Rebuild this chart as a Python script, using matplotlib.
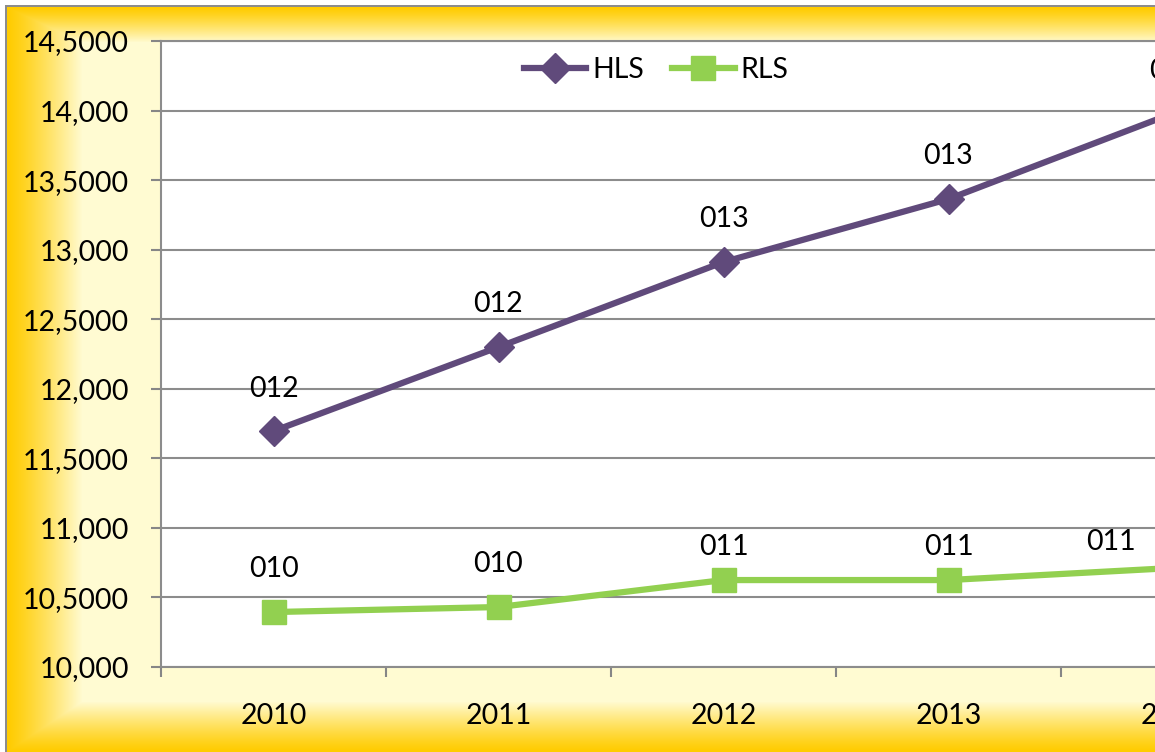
import numpy as np
import matplotlib.pyplot as plt
from matplotlib.colors import to_rgb

plt.rcParams['font.family'] = ['Lato', 'DejaVu Sans']

years = ['2010', '2011', '2012', '2013', '2014']
hls = [11696, 12300, 12911, 13364, 13982]
rls = [10395, 10431, 10625, 10625, 10712]
hls_labels = ['012', '012', '013', '013', '013']
rls_labels = ['010', '010', '011', '011', '011']
ytick_vals = [10000, 10500, 11000, 11500, 12000, 12500, 13000, 13500, 14000, 14500]
ytick_text = ['10,000', '10,5000', '11,000', '11,5000', '12,000', '12,5000',
              '13,000', '13,5000', '14,000', '14,5000']

W, H = 1155, 752
fig = plt.figure(figsize=(W / 100, H / 100), dpi=100)

# golden frame gradient behind everything
yy, xx = np.mgrid[0:H, 0:W].astype(float)
t = np.minimum.reduce([(xx - 7) / 75.0, (yy - 7) / 35.0, (H - 1 - yy) / 50.0, np.ones_like(xx)])
t = np.clip(t, 0, 1) ** 1.2
gold = np.array(to_rgb('#FFCC00'))
pale = np.array(to_rgb('#FFFBD2'))
img = gold[None, None, :] * (1 - t[..., None]) + pale[None, None, :] * t[..., None]
img[(xx < 5) | (yy < 5)] = 1.0
img[((xx >= 5) & (xx < 7) & (yy >= 5)) | ((yy >= 5) & (yy < 7) & (xx >= 5))] = to_rgb('#8C8C8C')
bg = fig.add_axes([0, 0, 1, 1], zorder=0)
bg.imshow(img, aspect='auto', interpolation='bilinear')
bg.axis('off')

ax = fig.add_axes([161 / W, 85 / H, 1125 / W, 626 / H], zorder=1)
ax.set_facecolor('white')
x = np.arange(len(years))

ax.plot(x, hls, color='#604A7B', lw=4.5, marker='D', ms=15, label='HLS', zorder=3)
ax.plot(x, rls, color='#92D050', lw=4.5, marker='s', ms=17, label='RLS', zorder=3)

hls_off = [(0, 30), (0, 31), (0, 31), (0, 31), (0, 30)]
rls_off = [(0, 31), (0, 31), (0, 24), (0, 24), (-45, 19)]
for i in range(len(years)):
    ax.annotate(hls_labels[i], (x[i], hls[i]), xytext=hls_off[i], textcoords='offset points',
                ha='center', va='center', fontsize=20.5)
    ax.annotate(rls_labels[i], (x[i], rls[i]), xytext=rls_off[i], textcoords='offset points',
                ha='center', va='center', fontsize=20.5)

ax.set_xlim(-0.5, 4.5)
ax.set_ylim(10000, 14500)
ax.set_yticks(ytick_vals)
ax.set_yticklabels(ytick_text, fontsize=20.5)
ax.set_xticks(x)
ax.set_xticklabels(years, fontsize=20.5)
ax.set_xticks(np.arange(-0.5, 5, 1), minor=True)
ax.tick_params(axis='x', which='major', length=0, pad=26)
ax.tick_params(axis='x', which='minor', length=7, width=1.5, color='#868686')
ax.tick_params(axis='y', length=7, width=1.5, color='#868686', pad=16)
ax.yaxis.grid(True, color='#8C8C8C', lw=1.5)
ax.set_axisbelow(True)
ax.spines['right'].set_visible(False)
for s in ['left', 'bottom', 'top']:
    ax.spines[s].set_color('#8C8C8C')
    ax.spines[s].set_linewidth(1.5)

fig.legend(loc='center', bbox_to_anchor=(656 / W, 1 - 70 / H), ncol=2, frameon=False,
           fontsize=20.5, handlelength=2.2, handletextpad=0.2, columnspacing=1.0)

fig.savefig('out.png', dpi=100)
